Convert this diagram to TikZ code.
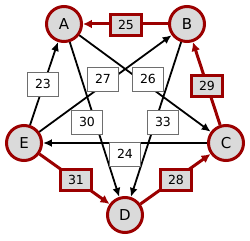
\documentclass[tikz,border=0pt]{standalone}
\usepackage{fontspec}
\setmainfont{DejaVu Sans}
\usetikzlibrary{arrows.meta}
\definecolor{dred}{RGB}{155,0,0}
\definecolor{ngray}{RGB}{218,218,218}
\definecolor{bgray}{RGB}{110,110,110}
\begin{document}
\begin{tikzpicture}[x=1pt,y=-1pt,
  vert/.style={circle,draw=dred,fill=ngray,line width=3pt,minimum size=35pt,inner sep=0pt,font=\fontsize{15}{15}\selectfont},
  blk/.style={draw=black,line width=1.8pt,-{Latex[length=9pt,width=8pt]}},
  redge/.style={draw=dred,line width=3pt,-{Latex[length=9pt,width=9pt]}},
  lbl/.style={draw=bgray,fill=white,line width=0.8pt,minimum width=31pt,minimum height=24pt,inner sep=0pt,font=\fontsize{12.5}{12.5}\selectfont},
  rlbl/.style={draw=dred,fill=ngray,line width=3pt,minimum width=31pt,minimum height=21pt,inner sep=0pt,font=\fontsize{12.5}{12.5}\selectfont}]
\useasboundingbox (0,0) rectangle (250,241);
\node[vert] (A) at (64,24) {A};
\node[vert] (B) at (187,24) {B};
\node[vert] (C) at (226,143) {C};
\node[vert] (D) at (125,215) {D};
\node[vert] (E) at (24,143) {E};
% black edges
\draw[blk] (E) -- (A);
\draw[blk] (E) -- (B);
\draw[blk] (A) -- (C);
\draw[blk] (A) -- (D);
\draw[blk] (B) -- (D);
\draw[blk] (C) -- (E);
% red edges
\draw[redge] (B) -- (A);
\draw[redge] (C) -- (B);
\draw[redge] (E) -- (D);
\draw[redge] (D) -- (C);
% labels
\node[lbl] (l23) at (43,84) {23};
\node[lbl] (l27) at (103,79) {27};
\node[lbl] (l26) at (148,79) {26};
\node[lbl] (l30) at (87,122) {30};
\node[lbl] (l33) at (163,122) {33};
\node[lbl] (l24) at (125,154) {24};
\node[rlbl] (l25) at (126,25) {25};
\node[rlbl] (l29) at (207,86) {29};
\node[rlbl] (l31) at (76,180) {31};
\node[rlbl] (l28) at (176,180) {28};
\end{tikzpicture}
\end{document}
